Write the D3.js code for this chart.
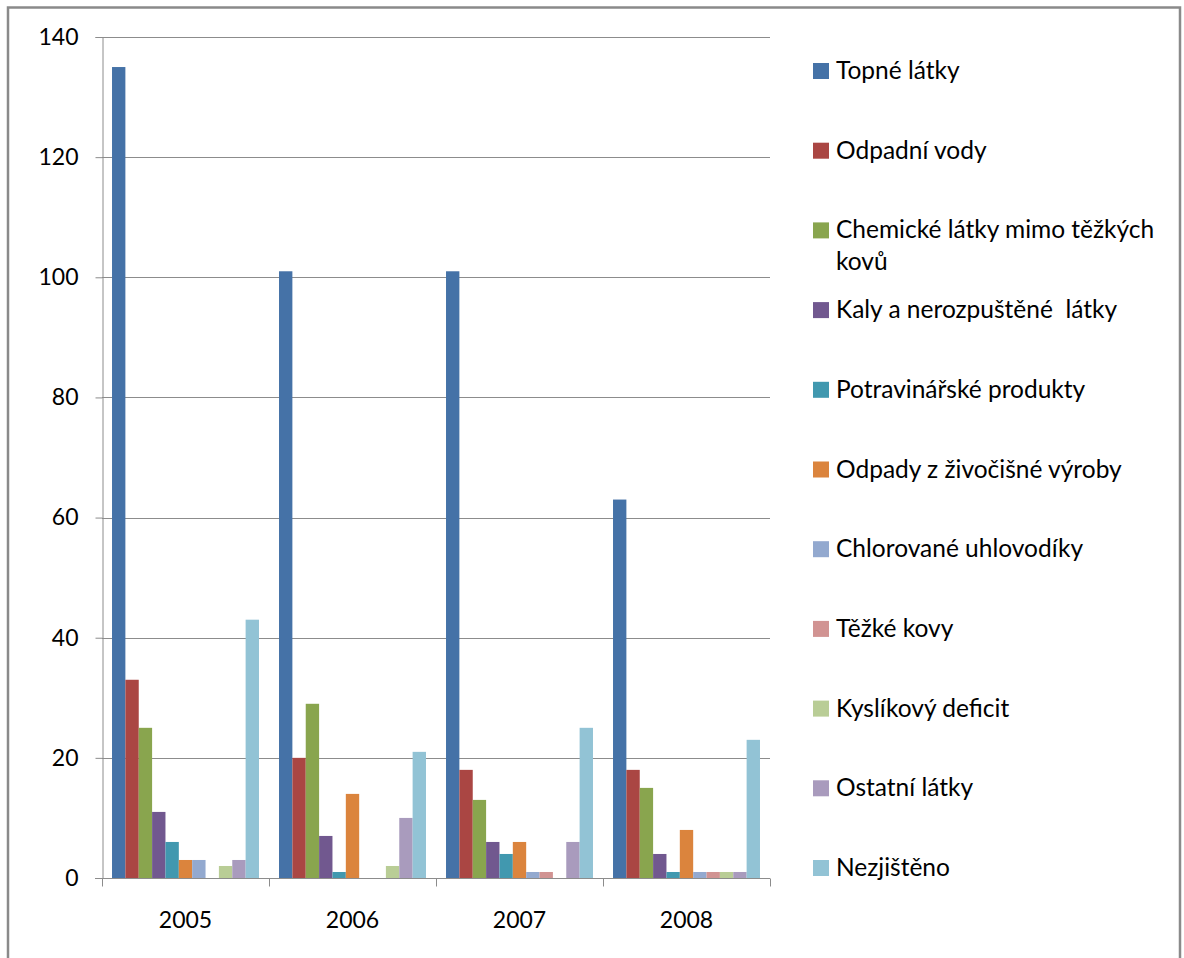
<!DOCTYPE html>
<html>
<head>
<meta charset="utf-8">
<script src="https://cdn.jsdelivr.net/npm/d3@7"></script>
<style>
  html, body { margin: 0; padding: 0; background: #fff; }
  svg text { font-family: Lato, "Open Sans", sans-serif; fill: #000; white-space: pre; }
</style>
</head>
<body>
<svg id="chart" width="1184" height="958"></svg>
<script>
// Počty případů havárií podle druhu znečišťující látky, 2005–2008
const years = ["2005", "2006", "2007", "2008"];
const seriesNames = [
  "Topné látky",
  "Odpadní vody",
  "Chemické látky mimo těžkých kovů",
  "Kaly a nerozpuštěné  látky",
  "Potravinářské produkty",
  "Odpady z živočišné výroby",
  "Chlorované uhlovodíky",
  "Těžké kovy",
  "Kyslíkový deficit",
  "Ostatní látky",
  "Nezjištěno"
];
const seriesColors = [
  "#4572a7", "#aa4643", "#89a54e", "#71588f", "#4198af", "#db843d",
  "#93a9cf", "#d19392", "#b9cd96", "#a99bbd", "#92c3d5"
];
// values per series, in the order of years
const topneLatky       = [135, 101, 101, 63];
const odpadniVody      = [33, 20, 18, 18];
const chemickeLatky    = [25, 29, 13, 15];
const kalyLatky        = [11, 7, 6, 4];
const potravinarske    = [6, 1, 4, 1];
const odpadyZivocisne  = [3, 14, 6, 8];
const chlorovane       = [3, 0, 1, 1];
const tezkeKovy        = [0, 0, 1, 1];
const kyslikovyDeficit = [2, 2, 0, 1];
const ostatniLatky     = [3, 10, 6, 1];
const nezjisteno       = [43, 21, 25, 23];
const seriesValues = [
  topneLatky, odpadniVody, chemickeLatky, kalyLatky, potravinarske,
  odpadyZivocisne, chlorovane, tezkeKovy, kyslikovyDeficit, ostatniLatky, nezjisteno
];
const yTicks = [0, 20, 40, 60, 80, 100, 120, 140];

const svg = d3.select("#chart");
const gridColor = "#8c8c8c";

// outer frame
svg.append("rect")
  .attr("x", 8).attr("y", 7.5)
  .attr("width", 1172).attr("height", 1000)
  .attr("fill", "none").attr("stroke", "#8a8a8a").attr("stroke-width", 2.5);

const plot = { left: 102, right: 770, top: 37, bottom: 878 };

const y = d3.scaleLinear().domain([0, 140]).range([plot.bottom, plot.top]);
const x = d3.scaleBand().domain(years).range([plot.left, plot.right]).padding(0);
const catW = x.bandwidth();
const barW = catW / 12.5;               // 11 bars + 150 % gap
const xs = d3.scaleBand()
  .domain(d3.range(seriesNames.length))
  .range([barW * 0.75, catW - barW * 0.75])
  .padding(0);

// horizontal gridlines
svg.append("g")
  .selectAll("line")
  .data(yTicks.filter(t => t > 0))
  .join("line")
  .attr("x1", plot.left).attr("x2", plot.right)
  .attr("y1", d => Math.round(y(d)) + 0.5).attr("y2", d => Math.round(y(d)) + 0.5)
  .attr("stroke", gridColor).attr("stroke-width", 1);

// bars
const groups = svg.append("g")
  .selectAll("g")
  .data(seriesNames.map((name, i) => ({ name, i, values: seriesValues[i] })))
  .join("g")
  .attr("fill", d => seriesColors[d.i]);

groups.selectAll("rect")
  .data(d => d.values.map((v, j) => ({ v, year: years[j], i: d.i })))
  .join("rect")
  .filter(d => d.v > 0)
  .attr("x", d => x(d.year) + xs(d.i))
  .attr("width", xs.bandwidth())
  .attr("y", d => y(d.v))
  .attr("height", d => y(0) - y(d.v));

// y axis
const yAxis = svg.append("g")
  .attr("transform", `translate(${plot.left + 0.5},0)`)
  .call(d3.axisLeft(y).tickValues(yTicks).tickSize(7).tickPadding(17).tickFormat(d3.format("d")));
yAxis.select(".domain").attr("stroke", gridColor);
yAxis.selectAll(".tick line").attr("stroke", gridColor);
yAxis.selectAll(".tick text")
  .style("font-size", "23px").style("font-family", "Lato, sans-serif").attr("fill", "#000");

// x axis
const xAxisG = svg.append("g")
  .attr("transform", `translate(0,${plot.bottom + 0.5})`);
xAxisG.append("line")
  .attr("x1", plot.left - 7).attr("x2", plot.right)
  .attr("stroke", gridColor);
xAxisG.selectAll("line.tick")
  .data(years.concat(["end"]))
  .join("line")
  .attr("class", "tick")
  .attr("x1", (d, i) => Math.round(plot.left + i * catW) + 0.5)
  .attr("x2", (d, i) => Math.round(plot.left + i * catW) + 0.5)
  .attr("y1", 0).attr("y2", 8)
  .attr("stroke", gridColor);
xAxisG.selectAll("text")
  .data(years)
  .join("text")
  .attr("x", d => x(d) + catW / 2)
  .attr("y", 49)
  .attr("text-anchor", "middle")
  .style("font-size", "23px")
  .text(d => d);

// legend
const legend = svg.append("g");
const legendTop = 71, legendStep = 79.7, maxTextW = 330;
seriesNames.forEach((name, i) => {
  const cy = legendTop + i * legendStep;
  legend.append("rect")
    .attr("x", 813).attr("y", cy - 8)
    .attr("width", 16).attr("height", 16)
    .attr("fill", seriesColors[i]);
  const t = legend.append("text")
    .attr("x", 836).attr("y", cy + 8)
    .style("font-size", "24.5px");
  // wrap long labels onto further lines
  const words = name.split(" ");
  let line = [];
  let tspan = t.append("tspan").attr("x", 836).attr("dy", 0);
  words.forEach(w => {
    line.push(w);
    tspan.text(line.join(" "));
    if (tspan.node().getComputedTextLength() > maxTextW && line.length > 1) {
      line.pop();
      tspan.text(line.join(" "));
      line = [w];
      tspan = t.append("tspan").attr("x", 836).attr("dy", 32).text(w);
    }
  });
});
</script>
</body>
</html>
